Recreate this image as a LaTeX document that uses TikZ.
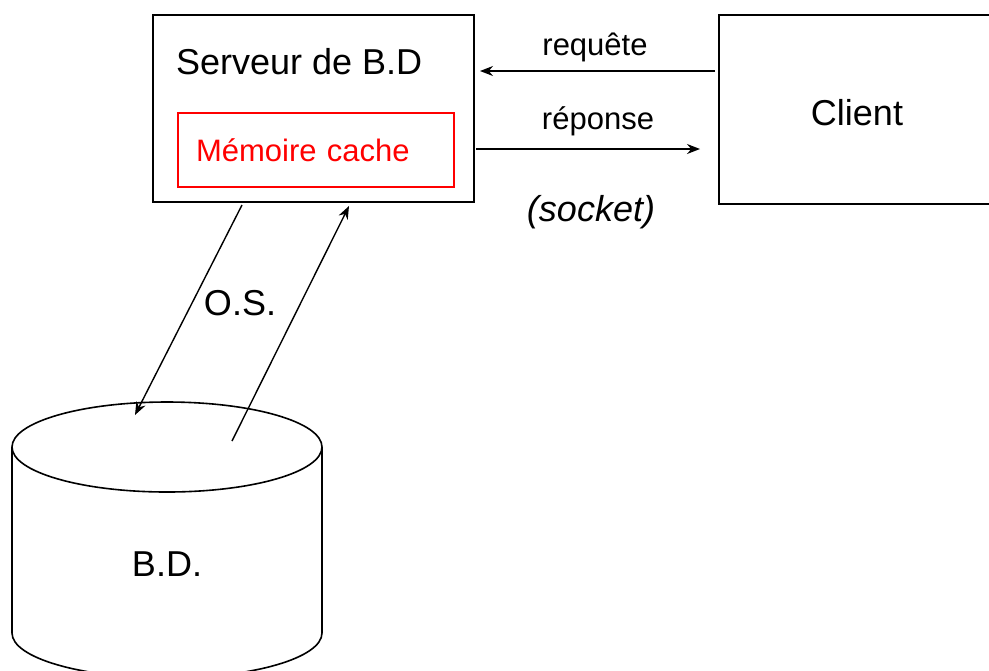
\documentclass[tikz,border=0pt]{standalone}
\usepackage{fontspec}
\setmainfont{Liberation Sans}
\usetikzlibrary{arrows.meta}
\tikzset{
  box/.style={draw, line width=0.8pt, inner sep=0pt},
  flow/.style={line width=0.7pt, -{Stealth[length=6.5pt,width=5pt]}},
  big/.style={font=\fontsize{18}{21}\selectfont},
  small/.style={font=\fontsize{15.5}{18}\selectfont}
}
\begin{document}
\begin{tikzpicture}[x=0.5pt, y=-0.5pt]
    \useasboundingbox (0, 0) rectangle (989, 670);
    \clip (0, 0) rectangle (989, 670);
    % server and cache
    \node[box, minimum width=160.5pt, minimum height=93.5pt] (server) at (313.5, 108.5) {};
    \node[big, anchor=west] (title) at (169, 62) {Serveur de B.D};
    \node[box, draw=red, line width=0.7pt, red, small, minimum height=37pt,
          text width=120pt, inner xsep=9pt, align=left] (cache) at (316, 150) {Mémoire cache};
    % client
    \node[box, minimum width=138pt, minimum height=94.5pt] (client) at (857, 109.5) {};
    \node[big] (clienttxt) at (857, 113) {Client};
    % socket arrows
    \coordinate (rq1) at (715, 71);
    \coordinate (rq2) at (480, 71);
    \coordinate (rp1) at (476, 149);
    \coordinate (rp2) at (700, 149);
    \draw[flow] (rq1) -- (rq2);
    \draw[flow] (rp1) -- (rp2);
    \node[small] (req) at (595, 47) {requête};
    \node[small] (rep) at (598, 121) {réponse};
    \node[big, font=\fontsize{18}{21}\selectfont\itshape] (sock) at (591, 212) {(socket)};
    % database
    \draw[line width=0.8pt] (12, 447) -- (12, 633) arc[start angle=180, end angle=360, x radius=155, y radius=-45] -- (322, 447);
    \draw[line width=0.8pt, fill=white] (167, 447) ellipse[x radius=155, y radius=45];
    \node[big] (db) at (167, 564) {B.D.};
    % O.S. arrows
    \coordinate (os1) at (242, 205);
    \coordinate (os2) at (135, 415);
    \coordinate (os3) at (232, 441);
    \coordinate (os4) at (349, 206);
    \draw[flow] (os1) -- (os2);
    \draw[flow] (os3) -- (os4);
    \node[big] (os) at (240, 303) {O.S.};
\end{tikzpicture}
\end{document}
